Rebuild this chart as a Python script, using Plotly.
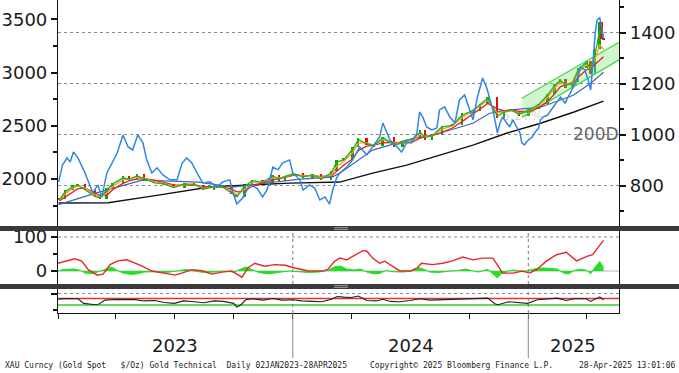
import plotly.graph_objects as go

# ---------------- data ----------------
PRICE_DATES = ["2023-01-03","2023-01-12","2023-01-24","2023-02-01","2023-02-12","2023-02-28","2023-03-08","2023-03-18",
               "2023-03-27","2023-04-12","2023-04-22","2023-05-04","2023-05-15","2023-05-31","2023-06-15","2023-06-30",
               "2023-07-17","2023-08-01","2023-08-15","2023-09-01","2023-09-14","2023-09-28","2023-10-06","2023-10-18",
               "2023-10-30","2023-11-15","2023-12-01","2023-12-11","2023-12-20","2024-01-02","2024-01-17","2024-02-01",
               "2024-02-14","2024-03-01","2024-03-09","2024-03-20","2024-04-03","2024-04-12","2024-04-25","2024-05-06",
               "2024-05-20","2024-06-07","2024-06-20","2024-07-05","2024-07-17","2024-07-25","2024-08-05","2024-08-20",
               "2024-09-05","2024-09-20","2024-10-07","2024-10-18","2024-10-30","2024-11-14","2024-11-25","2024-12-06",
               "2024-12-18","2025-01-02","2025-01-17","2025-01-31","2025-02-11","2025-02-20","2025-02-28","2025-03-11",
               "2025-03-20","2025-04-02","2025-04-08","2025-04-15","2025-04-22","2025-04-25","2025-04-28"]
PRICE_CLOSE = [1810,1895,1940,1955,1895,1830,1815,1920,1965,2025,2000,2045,1990,1960,1950,1915,1960,1945,1900,1935,
               1925,1860,1830,1950,1990,1965,2040,1985,2030,2060,2010,2045,1995,2080,2180,2190,2300,2390,2320,2310,
               2400,2300,2350,2390,2460,2370,2410,2500,2510,2620,2640,2710,2775,2570,2640,2640,2590,2655,2710,2800,
               2895,2940,2860,2915,3040,3110,2990,3220,3480,3320,3310]
MA_GREEN = [1805,1880,1930,1945,1900,1835,1825,1900,1955,2010,2000,2030,2005,1965,1955,1920,1955,1950,1905,1930,
            1925,1870,1835,1930,1985,1970,2030,2000,2025,2050,2020,2040,2000,2060,2160,2180,2280,2370,2330,2315,
            2390,2320,2340,2380,2440,2390,2410,2490,2505,2600,2645,2700,2760,2590,2630,2645,2610,2645,2700,2790,
            2880,2930,2880,2910,3030,3100,3020,3180,3400,3370,3330]
MA_ORANGE = [1800,1860,1915,1935,1915,1850,1830,1870,1930,1995,2000,2015,2010,1975,1960,1930,1945,1950,1915,1925,
             1925,1890,1850,1900,1970,1975,2010,2010,2020,2045,2030,2035,2015,2040,2120,2165,2250,2340,2340,2320,
             2370,2340,2335,2365,2420,2400,2405,2470,2500,2580,2640,2690,2740,2620,2630,2645,2620,2640,2690,2770,
             2860,2910,2890,2900,3005,3080,3040,3130,3260,3240,3220]
MA_RED = [1795,1830,1880,1910,1915,1870,1845,1850,1900,1960,1985,2000,2005,1990,1970,1945,1940,1945,1930,1920,
          1925,1905,1880,1885,1935,1965,1990,2005,2015,2035,2035,2030,2025,2030,2070,2130,2190,2270,2310,2320,
          2340,2345,2335,2350,2385,2400,2405,2440,2480,2540,2610,2660,2710,2660,2640,2650,2635,2635,2670,2730,
          2800,2870,2885,2895,2960,3030,3040,3080,3120,3140,3150]

MA50_DATES = ["2023-01-02","2023-03-02","2023-05-12","2023-08-08","2023-09-29","2023-11-21","2024-01-12","2024-03-02",
              "2024-03-14","2024-05-04","2024-06-26","2024-08-16","2024-10-07","2024-11-02","2024-11-28","2025-01-20",
              "2025-03-12","2025-04-08","2025-04-28"]
MA50 = [1760,1870,1990,1972,1925,1962,2000,2019,2056,2272,2366,2431,2525,2619,2647,2675,2788,2900,3004]

MA200_DATES = ["2023-01-02","2023-03-20","2023-06-01","2023-08-25","2023-10-25","2023-12-27","2024-03-14","2024-05-04",
               "2024-06-26","2024-08-16","2024-10-07","2024-11-28","2025-01-20","2025-03-12","2025-04-28"]
MA200 = [1775,1778,1844,1925,1944,1962,1972,2056,2131,2225,2319,2431,2525,2628,2732]

BLUE_DATES = ["2023-01-02","2023-01-08","2023-01-15","2023-01-20","2023-01-25","2023-02-01","2023-02-12","2023-02-24",
              "2023-03-04","2023-03-10","2023-03-18","2023-03-26","2023-04-03","2023-04-12","2023-04-20","2023-04-27",
              "2023-05-05","2023-05-13","2023-05-19","2023-05-27","2023-06-04","2023-06-13","2023-06-24","2023-07-05",
              "2023-07-13","2023-07-20","2023-07-28","2023-08-05","2023-08-14","2023-08-25","2023-09-05","2023-09-14",
              "2023-09-25","2023-09-30","2023-10-06","2023-10-15","2023-10-26","2023-11-06","2023-11-15","2023-11-22",
              "2023-12-01","2023-12-09","2023-12-16","2023-12-27","2024-01-01","2024-01-12","2024-01-17","2024-01-27",
              "2024-02-04","2024-02-12","2024-02-20","2024-02-27","2024-03-03","2024-03-09","2024-03-14","2024-03-25",
              "2024-04-03","2024-04-14","2024-04-25","2024-05-06","2024-05-15","2024-05-20","2024-05-31","2024-06-11",
              "2024-06-18","2024-06-26","2024-07-04","2024-07-12","2024-07-16","2024-07-21","2024-07-27","2024-08-04",
              "2024-08-12","2024-08-16","2024-08-24","2024-09-01","2024-09-09","2024-09-16","2024-09-24","2024-10-02",
              "2024-10-07","2024-10-14","2024-10-22","2024-10-28","2024-11-02","2024-11-07","2024-11-14","2024-11-18",
              "2024-11-22","2024-11-28","2024-12-03","2024-12-08","2024-12-14","2024-12-19","2024-12-22","2024-12-26",
              "2025-01-01","2025-01-07","2025-01-12","2025-01-17","2025-01-20","2025-01-24","2025-01-31","2025-02-09",
              "2025-02-20","2025-02-27","2025-03-07","2025-03-18","2025-03-23","2025-03-30","2025-04-04","2025-04-08",
              "2025-04-11","2025-04-15","2025-04-18","2025-04-22","2025-04-25","2025-04-28"]
BLUE_VALUES = [816,882,910,894,933,910,851,773,804,757,851,890,929,1000,953,941,1000,969,902,851,871,843,824,824,
               890,910,890,851,812,816,796,816,824,773,729,753,804,792,757,784,874,863,890,902,851,824,784,804,
               792,745,757,729,784,831,851,874,902,953,922,961,992,1047,980,953,933,969,969,1008,1090,1070,1031,1020,
               1027,1098,1110,1070,1047,1137,1157,1098,1059,1149,1223,1188,1137,1098,1008,1047,1070,1051,1031,1059,1031,1008,969,961,
               980,992,1012,1027,1059,1070,1078,1110,1149,1125,1165,1216,1266,1255,1216,1176,1266,1400,1451,1459,1423,1384]

CHANNEL_DATES = ["2024-12-22", "2025-05-22"]
CHANNEL_UPPER = [2760, 3285]
CHANNEL_LOWER = [2580, 3120]

OSC_DATES = ["2023-01-01","2023-01-27","2023-02-07","2023-02-17","2023-03-03","2023-03-12","2023-03-23","2023-04-04",
             "2023-04-18","2023-05-01","2023-05-11","2023-05-27","2023-06-12","2023-07-02","2023-07-17","2023-07-28",
             "2023-08-13","2023-08-28","2023-09-13","2023-09-28","2023-10-08","2023-10-14","2023-10-23","2023-11-03",
             "2023-11-18","2023-12-04","2023-12-20","2024-01-04","2024-01-24","2024-02-15","2024-02-24","2024-03-06",
             "2024-03-14","2024-03-25","2024-04-03","2024-04-19","2024-04-25","2024-05-04","2024-05-15","2024-05-23",
             "2024-06-03","2024-06-15","2024-07-01","2024-07-12","2024-07-19","2024-08-05","2024-08-21","2024-09-05",
             "2024-09-21","2024-10-07","2024-10-22","2024-11-07","2024-11-17","2024-11-22","2024-12-08","2024-12-23",
             "2025-01-03","2025-01-14","2025-01-29","2025-02-14","2025-03-01","2025-03-17","2025-04-02","2025-04-11",
             "2025-04-17","2025-04-26","2025-04-28"]
OSC_RED = [23,36,29,4,-12,-9,19,30,33,23,15,0,-6,-12,-3,4,1,-9,-3,0,-11,-18,9,23,14,19,17,9,1,0,4,29,38,33,43,60,59,
           38,23,29,15,1,0,9,23,19,23,30,41,33,38,38,9,-6,-6,0,-6,4,29,48,55,30,43,48,63,88,90]

HIST_DATES = ["2023-01-01","2023-01-10","2023-01-25","2023-02-05","2023-02-12","2023-02-22","2023-03-05","2023-03-15",
              "2023-03-25","2023-04-01","2023-04-12","2023-04-25","2023-05-05","2023-05-15","2023-06-01","2023-06-20",
              "2023-07-10","2023-07-20","2023-08-01","2023-08-15","2023-09-01","2023-09-15","2023-10-01","2023-10-10",
              "2023-10-20","2023-10-30","2023-11-10","2023-11-25","2023-12-10","2023-12-25","2024-01-10","2024-01-25",
              "2024-02-10","2024-02-25","2024-03-05","2024-03-15","2024-03-25","2024-04-05","2024-04-15","2024-04-25",
              "2024-05-05","2024-05-15","2024-05-25","2024-06-05","2024-06-20","2024-07-05","2024-07-15","2024-07-22",
              "2024-08-01","2024-08-15","2024-09-01","2024-09-15","2024-09-25","2024-10-05","2024-10-15","2024-10-30",
              "2024-11-08","2024-11-14","2024-11-20","2024-12-01","2024-12-10","2024-12-25","2025-01-05","2025-01-15",
              "2025-01-25","2025-02-05","2025-02-15","2025-02-25","2025-03-05","2025-03-15","2025-03-25","2025-04-02",
              "2025-04-08","2025-04-15","2025-04-22","2025-04-28"]
HIST_GREEN = [0,5,6,2,-6,-8,-2,6,12,4,-6,-10,-8,-3,-2,-4,3,5,0,-4,-3,0,-3,5,12,4,-5,-8,-3,0,-2,-4,-3,2,12,15,6,3,6,
              -3,-8,-7,2,-2,-3,0,10,6,-3,-4,0,2,6,2,-3,5,-10,-20,-8,0,3,-2,4,8,9,7,6,-6,-8,3,5,2,-8,12,28,10]

RSI_DATES = ["2023-01-01","2023-01-15","2023-02-01","2023-02-10","2023-02-25","2023-03-05","2023-03-15","2023-04-01",
             "2023-05-01","2023-05-15","2023-06-01","2023-06-15","2023-07-01","2023-07-15","2023-08-01","2023-08-15",
             "2023-09-01","2023-09-15","2023-10-01","2023-10-06","2023-10-12","2023-10-20","2023-11-01","2023-11-15",
             "2023-12-01","2023-12-15","2024-01-01","2024-01-15","2024-02-01","2024-02-15","2024-03-01","2024-03-10",
             "2024-03-20","2024-04-01","2024-04-12","2024-04-25","2024-05-10","2024-05-20","2024-06-01","2024-06-15",
             "2024-07-01","2024-07-17","2024-08-01","2024-08-15","2024-09-01","2024-09-15","2024-10-01","2024-10-15",
             "2024-10-30","2024-11-10","2024-11-15","2024-12-01","2024-12-15","2024-12-31","2025-01-15","2025-02-01",
             "2025-02-15","2025-03-01","2025-03-15","2025-04-01","2025-04-08","2025-04-22","2025-04-28"]
RSI = [66,70,68,40,33,35,60,64,63,55,58,45,40,55,50,44,55,52,40,18,30,62,68,60,70,60,62,55,52,50,65,82,78,76,85,58,
       55,65,52,50,58,68,60,62,64,66,70,68,72,38,32,50,45,40,62,68,72,58,70,68,52,80,62]

YEAR_LABELS = ["2023", "2024", "2025"]
LEFT_TICKS = [2000, 2500, 3000, 3500]
RIGHT_TICKS = [800, 1000, 1200, 1400]

# ---------------- geometry helpers (pixels -> paper) ----------------
W, H = 679, 373
L, R, T, B = 58, 619, 0, 313
def px(x):
    return (x - L) / (R - L)
def py(y):
    return (B - y) / (B - T)

FONT = "DejaVu Sans"
fig = go.Figure()

# channel
fig.add_trace(go.Scatter(x=CHANNEL_DATES, y=CHANNEL_LOWER, mode="lines",
                         line=dict(color="#4cd94c", width=1.3), yaxis="y", showlegend=False))
fig.add_trace(go.Scatter(x=CHANNEL_DATES, y=CHANNEL_UPPER, mode="lines", fill="tonexty",
                         fillcolor="rgba(120,230,120,0.35)",
                         line=dict(color="#4cd94c", width=1.3), yaxis="y", showlegend=False))

# moving averages
fig.add_trace(go.Scatter(x=MA200_DATES, y=MA200, mode="lines", line=dict(color="#111111", width=1.4),
                         yaxis="y", showlegend=False))
fig.add_trace(go.Scatter(x=MA50_DATES, y=MA50, mode="lines", line=dict(color="#3a68b8", width=1.2),
                         yaxis="y", showlegend=False))
fig.add_trace(go.Scatter(x=PRICE_DATES, y=MA_RED, mode="lines", line=dict(color="#e32222", width=1.3),
                         yaxis="y", showlegend=False))
fig.add_trace(go.Scatter(x=PRICE_DATES, y=MA_ORANGE, mode="lines", line=dict(color="#ff9a1a", width=1.3),
                         yaxis="y", showlegend=False))
fig.add_trace(go.Scatter(x=PRICE_DATES, y=MA_GREEN, mode="lines", line=dict(color="#22b022", width=1.3),
                         yaxis="y", showlegend=False))

# candles: open = previous close
opens = [PRICE_CLOSE[0]] + PRICE_CLOSE[:-1]
up_x, up_b, up_h, dn_x, dn_b, dn_h = [], [], [], [], [], []
for d, o, c in zip(PRICE_DATES, opens, PRICE_CLOSE):
    if c >= o:
        up_x.append(d); up_b.append(o); up_h.append(max(c - o, 8))
    else:
        dn_x.append(d); dn_b.append(c); dn_h.append(o - c)
DAY = 86400000
fig.add_trace(go.Bar(x=up_x, y=up_h, base=up_b, width=3 * DAY, marker=dict(color="#10a010", line=dict(width=0)),
                     yaxis="y", showlegend=False))
fig.add_trace(go.Bar(x=dn_x, y=dn_h, base=dn_b, width=3 * DAY, marker=dict(color="#dd1010", line=dict(width=0)),
                     yaxis="y", showlegend=False))

# right-axis blue line
fig.add_trace(go.Scatter(x=BLUE_DATES, y=BLUE_VALUES, mode="lines", line=dict(color="#2f86e6", width=1.5),
                         yaxis="y2", showlegend=False))

# middle panel
fig.add_trace(go.Scatter(x=HIST_DATES, y=HIST_GREEN, mode="lines", fill="tozeroy",
                         fillcolor="#22e022", line=dict(color="#22e022", width=1), yaxis="y3", showlegend=False))
fig.add_trace(go.Scatter(x=OSC_DATES, y=OSC_RED, mode="lines", line=dict(color="#e8262a", width=1.4),
                         yaxis="y3", showlegend=False))

# bottom panel
fig.add_trace(go.Scatter(x=RSI_DATES, y=RSI, mode="lines", line=dict(color="#222222", width=1.1),
                         yaxis="y4", showlegend=False))

shapes = []
shapes.append(dict(type="line", xref="x domain", x0=0, x1=1, yref="y3", y0=100, y1=100,
                   line=dict(color="#888", width=1, dash="dot"), layer="below"))
shapes.append(dict(type="line", xref="x domain", x0=0, x1=1, yref="y3", y0=0, y1=0,
                   line=dict(color="#b8b8b8", width=1), layer="below"))
shapes.append(dict(type="line", xref="x domain", x0=0, x1=1, yref="y4", y0=100, y1=100,
                   line=dict(color="#888", width=1, dash="dot"), layer="below"))
shapes.append(dict(type="line", xref="x domain", x0=0, x1=1, yref="y4", y0=70, y1=70,
                   line=dict(color="#e83030", width=1.5), layer="below"))
shapes.append(dict(type="line", xref="x domain", x0=0, x1=1, yref="y4", y0=30, y1=30,
                   line=dict(color="#33cc33", width=1.5), layer="below"))
for d in ["2024-01-01", "2025-01-01"]:
    for ya in ["y3 domain", "y4 domain"]:
        shapes.append(dict(type="line", xref="x", x0=d, x1=d, yref=ya, y0=0, y1=1,
                           line=dict(color="#777", width=1, dash="dot"), layer="below"))
    shapes.append(dict(type="line", xref="x", x0=d, x1=d, yref="paper", y0=py(358), y1=0,
                       line=dict(color="#888", width=1)))
# separator bars
for (y0, y1) in [(226, 231), (284, 289)]:
    shapes.append(dict(type="rect", xref="paper", x0=px(0), x1=px(679), yref="paper", y0=py(y1), y1=py(y0),
                       fillcolor="#3a3a3a", line=dict(width=0)))
    for gy in [y0 + 1.6, y0 + 3.4]:
        shapes.append(dict(type="line", xref="paper", x0=px(334), x1=px(348), yref="paper", y0=py(gy), y1=py(gy),
                           line=dict(color="#9a9a9a", width=1)))

annotations = []
for lab, cx in zip(YEAR_LABELS, [175, 411, 573]):
    annotations.append(dict(text=lab, xref="paper", yref="paper", x=px(cx), y=py(345), showarrow=False,
                            xanchor="center", yanchor="middle", font=dict(family=FONT, size=18, color="#1a1a1a")))
annotations.append(dict(text="200D", xref="paper", yref="paper", x=px(596), y=py(134), showarrow=False,
                        xanchor="center", yanchor="middle", font=dict(family=FONT, size=17, color="#666666")))
annotations.append(dict(text="6,1+%", xref="paper", yref="paper", x=px(522), y=py(116), showarrow=False,
                        xanchor="center", yanchor="middle", font=dict(family=FONT, size=12, color="rgba(150,150,120,0.45)")))
FOOT = dict(family="DejaVu Sans Mono", size=8, color="#222222")
annotations.append(dict(text="XAU Curncy (Gold Spot   $/Oz) Gold Technical  Daily 02JAN2023-28APR2025",
                        xref="paper", yref="paper", x=px(3), y=py(365), showarrow=False,
                        xanchor="left", yanchor="middle", font=FOOT))
annotations.append(dict(text="Copyright\u00a9 2025 Bloomberg Finance L.P.", xref="paper", yref="paper",
                        x=px(368), y=py(365), showarrow=False, xanchor="left", yanchor="middle", font=FOOT))
annotations.append(dict(text="28-Apr-2025 13:01:06", xref="paper", yref="paper", x=px(678), y=py(365),
                        showarrow=False, xanchor="right", yanchor="middle", font=FOOT))

TICKFONT = dict(family=FONT, size=18, color="#1a1a1a")
quarters = ["2023-01-01","2023-04-01","2023-07-01","2023-10-01","2024-01-01","2024-04-01","2024-07-01",
            "2024-10-01","2025-01-01","2025-04-01"]

fig.update_layout(
    width=W, height=H, margin=dict(l=L, r=W - R, t=T, b=H - B, autoexpand=False),
    paper_bgcolor="white", plot_bgcolor="white", barmode="overlay", bargap=0,
    showlegend=False, shapes=shapes, annotations=annotations,
    xaxis=dict(type="date", range=["2023-01-01", "2025-05-22"], anchor="y4", showgrid=False, zeroline=False,
               automargin=False,
               showline=True, linecolor="#111", linewidth=1.2, ticks="outside", ticklen=5, tickcolor="#111",
               tickvals=quarters, showticklabels=False),
    yaxis=dict(domain=[py(226), 1], range=[1559, 3683], showgrid=False, zeroline=False, showline=True,
               automargin=False,
               linecolor="#111", linewidth=1.2, ticks="outside", ticklen=6, tickwidth=2, tickcolor="#111",
               tickvals=LEFT_TICKS, ticktext=[str(v) for v in LEFT_TICKS], tickfont=TICKFONT,
               minor=dict(tickvals=[1750, 2250, 2750, 3250], ticks="outside", ticklen=4, tickcolor="#111")),
    yaxis2=dict(overlaying="y", side="right", range=[643, 1529], showgrid=True, gridcolor="#8a8a8a",
                automargin=False,
                griddash="dot", gridwidth=1, zeroline=False, showline=True, linecolor="#111", linewidth=1.2,
                ticks="outside", ticklen=6, tickwidth=2, tickcolor="#111", tickvals=RIGHT_TICKS,
                ticktext=[str(v) for v in RIGHT_TICKS], tickfont=TICKFONT,
                minor=dict(tickvals=[700, 900, 1100, 1300, 1500], ticks="outside", ticklen=4, tickcolor="#111")),
    yaxis3=dict(domain=[py(284), py(231)], range=[-38, 117.6], showgrid=False, zeroline=False, showline=True,
                automargin=False,
                mirror=True, linecolor="#111", linewidth=1.2, ticks="outside", ticklen=6, tickwidth=2,
                tickcolor="#111", tickvals=[0, 100], ticktext=["0", "100"], tickfont=TICKFONT,
                minor=dict(tickvals=[50], ticks="outside", ticklen=4, tickcolor="#111")),
    yaxis4=dict(domain=[0, py(289)], range=[-19, 128], showgrid=False, zeroline=False, showline=True,
                automargin=False,
                mirror=True, linecolor="#111", linewidth=1.2, ticks="outside", ticklen=6, tickwidth=2,
                tickcolor="#111", tickvals=[100], ticktext=[""], tickfont=TICKFONT,
                minor=dict(tickvals=[0], ticks="outside", ticklen=4, tickcolor="#111")),
)

fig.write_html("out.html", config={"displayModeBar": False},
               post_script="document.body.style.margin='0';document.body.style.padding='0';"
                           "document.body.style.overflow='hidden';")
